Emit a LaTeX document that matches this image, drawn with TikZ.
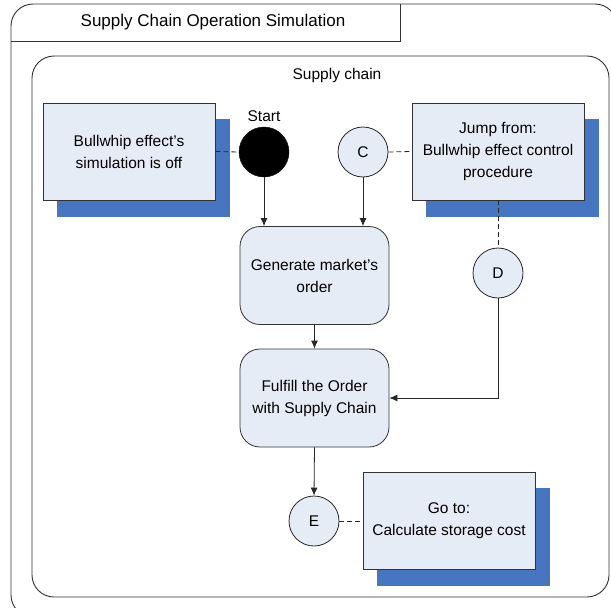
\documentclass[tikz,border=0pt]{standalone}
\usepackage{fontspec}
\setmainfont{Liberation Sans}
\usetikzlibrary{arrows.meta}
\definecolor{boxfill}{RGB}{230,236,246}
\definecolor{shadowblue}{RGB}{70,118,192}
\definecolor{frameline}{RGB}{50,50,50}
\begin{document}
\begin{tikzpicture}[x=1pt,y=-1pt,
  every node/.style={font=\fontsize{15.5}{22}\selectfont, align=center, text=black},
  notebox/.style={draw=black!80, fill=boxfill, line width=0.8pt, minimum width=172pt, minimum height=97pt, inner sep=0pt},
  shadowbox/.style={fill=shadowblue, minimum width=173pt, minimum height=98pt, inner sep=0pt},
  actbox/.style={draw=black!80, fill=boxfill, line width=0.8pt, rounded corners=20pt, minimum width=149pt, minimum height=98pt, inner sep=0pt},
  conn/.style={draw=black!85, fill=boxfill, line width=0.8pt, circle, minimum size=50pt, inner sep=0pt},
  flow/.style={line width=0.8pt, draw=black!85, -{Latex[length=8pt,width=7pt]}},
  note/.style={line width=0.8pt, draw=black!85, dashed, dash pattern=on 5pt off 3pt},
  frame/.style={draw=frameline, line width=0.9pt}]
\useasboundingbox (0,0) rectangle (611,608);
\begin{scope}
\clip (0,0) rectangle (611,608);
\draw[frame, rounded corners=22pt] (11,4) rectangle (617,617);
\end{scope}
\draw[frame] (11,41) -- (400,41) -- (400,4);
\node[font=\fontsize{17}{20}\selectfont] (title) at (213,22) {Supply Chain Operation Simulation};
\draw[frame, rounded corners=22pt] (32,56) rectangle (609,597);
\node (sc) at (337,75) {Supply chain};

% shadows
\node[shadowbox] (s1) at (143.5,167.5) {};
\node[shadowbox] (s2) at (512.5,167.5) {};
\node[shadowbox] (s3) at (463.5,536.5) {};

% boxes
\node[notebox] (b1) at (129,151.5) {Bullwhip effect's\\simulation is off};
\node[notebox] (b2) at (498,151.5) {Jump from:\\Bullwhip effect control\\procedure};
\node[notebox] (b3) at (449,521) {Go to:\\Calculate storage cost};

\node[circle, fill=black, draw=black, minimum size=50pt, inner sep=0pt] (start) at (264,152) {};
\node (startlbl) at (264,116) {Start};
\node[conn] (C) at (363,152) {C};
\node[conn] (D) at (498,273) {D};
\node[conn] (E) at (314,521) {E};

\node[actbox] (gen) at (314.5,275.5) {Generate market's\\order};
\node[actbox] (ful) at (314.5,398) {Fulfill the Order\\with Supply Chain};

\draw[note] (b1.east) -- (start.west);
\draw[note] (C.east) -- (b2.west);
\draw[note] (b2.south) -- (D.north);
\draw[note] (E.east) -- (b3.west);

\draw[flow] (start.south) -- (start.south |- gen.north);
\draw[flow] (C.south) -- (C.south |- gen.north);
\draw[flow] (gen.south) -- (ful.north);
\draw[flow] (D.south) |- (ful.east);
\draw[flow] (ful.south) -- (E.north);
\end{tikzpicture}
\end{document}
